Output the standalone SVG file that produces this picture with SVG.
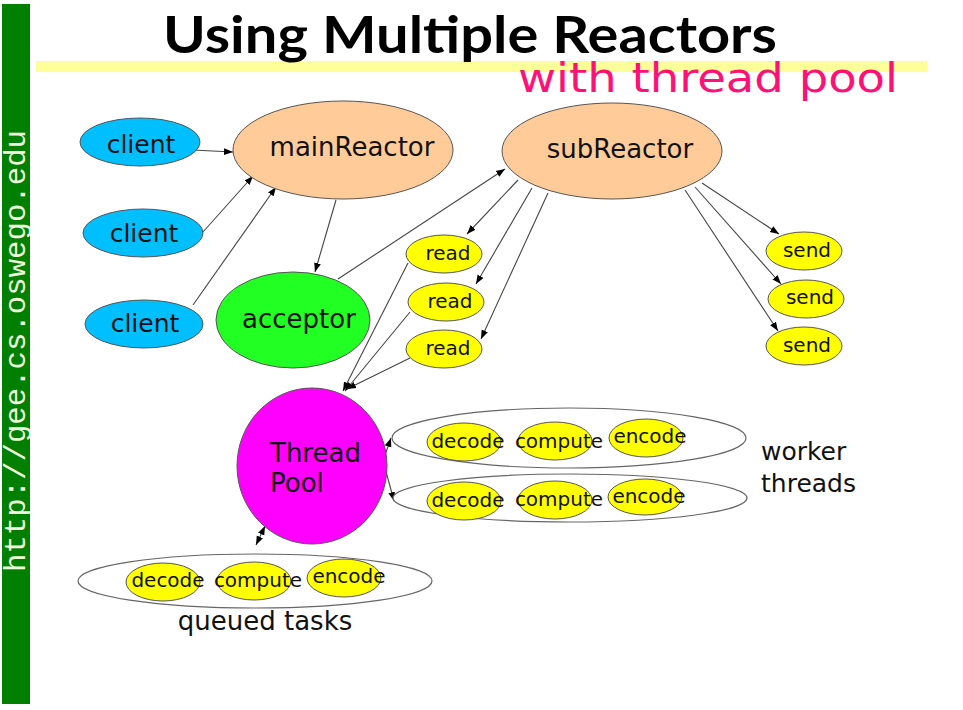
<svg xmlns="http://www.w3.org/2000/svg" width="963" height="710" viewBox="0 0 963 710">
<defs>
<marker id="ah" viewBox="0 0 10 10" refX="10" refY="5" markerWidth="9" markerHeight="9" markerUnits="userSpaceOnUse" orient="auto-start-reverse">
<path d="M0,1.2 L10,5 L0,8.8 z" fill="#000"/>
</marker>
<style>
.lbl{font-family:"DejaVu Sans","Liberation Sans",sans-serif;fill:#111;text-anchor:middle}
.big{font-size:26px}
.sm{font-size:20px}
.node{stroke:#555;stroke-width:1}
.client{fill:#00BFFF}
.reactor{fill:#FFCC99}
.yel{fill:#FFFF00}
.grp{fill:#fff;stroke:#666;stroke-width:1.2}
.conn line{stroke:#444;stroke-width:1.1;marker-end:url(#ah)}
</style>
</defs>
<rect width="963" height="710" fill="#fff"/>
<g id="sidebar">
<rect x="2" y="4" width="28" height="700" fill="#007F00"/>
<text transform="translate(25,572) rotate(-90)" font-family="'Liberation Mono','DejaVu Sans Mono',monospace" font-size="29" fill="#EEF8DD" textLength="442" lengthAdjust="spacingAndGlyphs">http://gee.cs.oswego.edu</text>
</g>
<g id="title">
<rect x="36" y="61" width="891" height="11" fill="#FFFF99"/>
<text x="163" y="53" font-family="Lato,'DejaVu Sans',sans-serif" font-weight="bold" font-size="52" fill="#000" textLength="614" lengthAdjust="spacingAndGlyphs">Using Multiple Reactors</text>
<text x="518" y="92" font-family="'DejaVu Sans',sans-serif" font-size="40" fill="#FF1177" textLength="380" lengthAdjust="spacingAndGlyphs">with thread pool</text>
</g>
<g id="connectors" class="conn">
<line x1="192" y1="150" x2="233" y2="152"/>
<line x1="203" y1="232" x2="253" y2="176"/>
<line x1="193" y1="305" x2="276" y2="187"/>
<line x1="336" y1="200" x2="315" y2="272"/>
<line x1="338" y1="279" x2="505" y2="169"/>
<line x1="518" y1="180" x2="467" y2="234"/>
<line x1="532" y1="188" x2="476" y2="284"/>
<line x1="548" y1="193" x2="481" y2="339"/>
<line x1="702" y1="183" x2="779" y2="234"/>
<line x1="695" y1="187" x2="781" y2="284"/>
<line x1="685" y1="190" x2="778" y2="331"/>
<line x1="408" y1="263" x2="343" y2="391"/>
<line x1="410" y1="312" x2="345" y2="391"/>
<line x1="410" y1="358" x2="347" y2="389"/>
<line x1="384" y1="458" x2="391" y2="438"/>
<line x1="384" y1="464" x2="394" y2="501"/>
<line x1="256" y1="545" x2="265" y2="526" style="marker-start:url(#ah)"/>
</g>
<g id="client1"><ellipse class="node client" cx="140" cy="142" rx="60" ry="24"/><text class="lbl" font-size="25" x="141" y="153">client</text></g>
<g id="client2"><ellipse class="node client" cx="143" cy="233" rx="60" ry="24"/><text class="lbl" font-size="25" x="144" y="242">client</text></g>
<g id="client3"><ellipse class="node client" cx="144" cy="324" rx="59" ry="24"/><text class="lbl" font-size="25" x="145" y="332">client</text></g>
<g id="mainReactor"><ellipse class="node reactor" cx="343" cy="150" rx="110" ry="49"/><text class="lbl big" x="352" y="156">mainReactor</text></g>
<g id="acceptor"><ellipse class="node" fill="#22FF22" cx="293" cy="320" rx="77" ry="48"/><text class="lbl big" x="299" y="328">acceptor</text></g>
<g id="subReactor"><ellipse class="node reactor" cx="612" cy="151" rx="110" ry="48"/><text class="lbl big" x="620" y="158">subReactor</text></g>
<g id="read1"><ellipse class="node yel" cx="444" cy="254" rx="38" ry="19"/><text class="lbl sm" x="448" y="260">read</text></g>
<g id="read2"><ellipse class="node yel" cx="446" cy="302" rx="38" ry="19"/><text class="lbl sm" x="450" y="308">read</text></g>
<g id="read3"><ellipse class="node yel" cx="444" cy="349" rx="38" ry="19"/><text class="lbl sm" x="448" y="355">read</text></g>
<g id="send1"><ellipse class="node yel" cx="804" cy="251" rx="38" ry="19"/><text class="lbl sm" x="807" y="257">send</text></g>
<g id="send2"><ellipse class="node yel" cx="806" cy="299" rx="38" ry="19"/><text class="lbl sm" x="810" y="304">send</text></g>
<g id="send3"><ellipse class="node yel" cx="804" cy="346" rx="38" ry="19"/><text class="lbl sm" x="807" y="352">send</text></g>
<g id="threadPool"><ellipse class="node" fill="#FF00FF" cx="312" cy="466" rx="75" ry="78"/>
<text font-family="'DejaVu Sans',sans-serif" font-size="26" fill="#111" x="270" y="462">Thread</text>
<text font-family="'DejaVu Sans',sans-serif" font-size="26" fill="#111" x="270" y="492">Pool</text></g>
<g id="workerThread1">
<ellipse class="grp" cx="569" cy="438" rx="177" ry="30"/>
<ellipse class="node yel" cx="464" cy="442" rx="37" ry="19"/><text class="lbl sm" x="468" y="448">decode</text>
<ellipse class="node yel" cx="555" cy="441" rx="37" ry="19"/><text class="lbl sm" x="559" y="448">compute</text>
<ellipse class="node yel" cx="646" cy="438" rx="37" ry="19"/><text class="lbl sm" x="650" y="443">encode</text>
</g>
<g id="workerThread2">
<ellipse class="grp" cx="570" cy="498" rx="177" ry="24"/>
<ellipse class="node yel" cx="464" cy="501" rx="37" ry="19"/><text class="lbl sm" x="468" y="507">decode</text>
<ellipse class="node yel" cx="555" cy="500" rx="37" ry="19"/><text class="lbl sm" x="559" y="506">compute</text>
<ellipse class="node yel" cx="645" cy="497" rx="37" ry="18"/><text class="lbl sm" x="649" y="503">encode</text>
</g>
<g id="workerLabel"><text font-family="'DejaVu Sans',sans-serif" font-size="25" fill="#111" x="761" y="460">worker</text><text font-family="'DejaVu Sans',sans-serif" font-size="25" fill="#111" x="761" y="492">threads</text></g>
<g id="queuedTasks">
<ellipse class="grp" cx="255" cy="581" rx="177" ry="27"/>
<ellipse class="node yel" cx="163" cy="582" rx="37" ry="19"/><text class="lbl sm" x="168" y="587">decode</text>
<ellipse class="node yel" cx="254" cy="581" rx="37" ry="19"/><text class="lbl sm" x="258" y="587">compute</text>
<ellipse class="node yel" cx="344" cy="578" rx="37" ry="19"/><text class="lbl sm" x="349" y="583">encode</text>
<text class="lbl" font-size="26" x="265" y="630">queued tasks</text>
</g>
</svg>
